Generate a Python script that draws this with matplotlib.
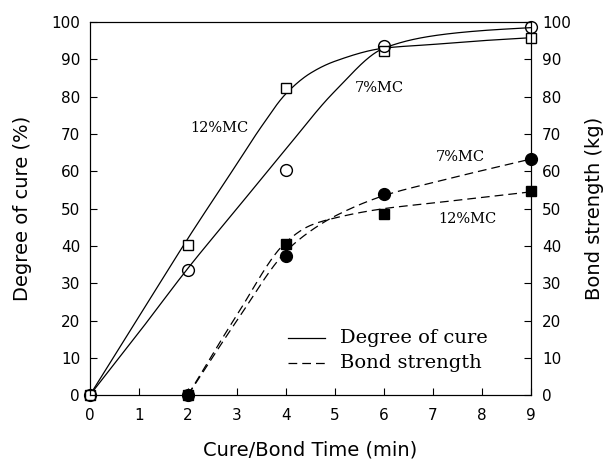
import numpy as np
import matplotlib
matplotlib.use("Agg")
import matplotlib.pyplot as plt

# measured points
time_cure = [0, 2, 4, 6, 9]
cure_12mc = [0, 40.2, 82.3, 92.2, 95.8]
cure_7mc = [0, 33.5, 60.4, 93.6, 98.6]
time_bond = [2, 4, 6, 9]
bond_7mc = [0, 37.2, 53.8, 63.4]
bond_12mc = [0, 40.6, 48.6, 54.8]

# fitted curves
fit_t12 = [0, 1, 2, 3, 3.5, 4, 4.5, 5, 6, 7, 8, 9]
fit_cure_12mc = [0, 21, 42, 62, 72, 80.8, 86.3, 89.5, 93, 94, 95, 95.8]
fit_t7 = [0, 1, 2, 3, 4, 5, 6, 7, 8, 9]
fit_cure_7mc = [0, 16.8, 34, 50, 66, 81.5, 93, 96.3, 97.7, 98.5]
fit_bt = [2, 3, 4, 4.5, 5, 6, 7, 8, 9]
fit_bond_7mc = [0, 20, 38.5, 44, 48, 53.5, 57, 60.2, 63.3]
fit_bond_12mc = [0, 21.5, 41, 45.5, 47.5, 50, 51.5, 53, 54.5]


def smooth(xs, ys, n=400):
    # monotone cubic through the read points, only for drawing
    x = np.asarray(xs, float); y = np.asarray(ys, float)
    h = np.diff(x); d = np.diff(y) / h
    m = np.zeros_like(y)
    m[0], m[-1] = d[0], d[-1]
    for i in range(1, len(x) - 1):
        if d[i - 1] * d[i] > 0:
            w1 = 2 * h[i] + h[i - 1]; w2 = h[i] + 2 * h[i - 1]
            m[i] = (w1 + w2) / (w1 / d[i - 1] + w2 / d[i])
    xx = np.linspace(x[0], x[-1], n)
    k = np.clip(np.searchsorted(x, xx) - 1, 0, len(h) - 1)
    t = (xx - x[k]) / h[k]
    h00 = 2*t**3 - 3*t**2 + 1; h10 = t**3 - 2*t**2 + t
    h01 = -2*t**3 + 3*t**2; h11 = t**3 - t**2
    yy = h00*y[k] + h10*h[k]*m[k] + h01*y[k+1] + h11*h[k]*m[k+1]
    return xx, yy


serif = 'DejaVu Serif'
dash = (7, 4)

fig = plt.figure(figsize=(6.07, 4.59), dpi=100)
ax = fig.add_axes([0.148, 0.139, 0.727, 0.813])
ax2 = ax.twinx()

ax.plot(*smooth(fit_t12, fit_cure_12mc), 'k-', lw=0.9)
ax.plot(*smooth(fit_t7, fit_cure_7mc), 'k-', lw=0.9)
ax.plot(time_cure, cure_12mc, 's', ms=7, mfc='white', mec='k', mew=1, clip_on=False)
ax.plot(time_cure, cure_7mc, 'o', ms=8.5, mfc='none', mec='k', mew=1, clip_on=False)

ax2.plot(*smooth(fit_bt, fit_bond_7mc), 'k--', lw=0.9, dashes=dash)
ax2.plot(*smooth(fit_bt, fit_bond_12mc), 'k--', lw=0.9, dashes=dash)
ax2.plot(time_bond, bond_7mc, 'o', ms=8.5, color='k', clip_on=False)
ax2.plot(time_bond, bond_12mc, 's', ms=6.5, color='k', clip_on=False)

ax.set_xlim(0, 9)
ax.set_ylim(0, 100)
ax2.set_ylim(0, 100)
ax.set_xticks(range(10))
ax.set_yticks(range(0, 101, 10))
ax2.set_yticks(range(0, 101, 10))
ax.tick_params(axis='x', direction='in', length=5, labelsize=11, pad=9)
ax.tick_params(axis='y', direction='in', length=5, labelsize=11, pad=7)
ax2.tick_params(direction='in', length=5, labelsize=11, pad=8)

ax.set_xlabel('Cure/Bond Time (min)', fontsize=14, labelpad=13)
ax.set_ylabel('Degree of cure (%)', fontsize=14, labelpad=14)
ax2.set_ylabel('Bond strength (kg)', fontsize=14, labelpad=10)

ax.text(2.65, 71.6, '12%MC', family=serif, fontsize=10.5, ha='center', va='center')
ax.text(5.9, 82.3, '7%MC', family=serif, fontsize=10.5, ha='center', va='center')
ax2.text(7.55, 63.8, '7%MC', family=serif, fontsize=10.5, ha='center', va='center')
ax2.text(7.7, 47.2, '12%MC', family=serif, fontsize=10.5, ha='center', va='center')

ax.plot([4.05, 4.8], [15.3, 15.3], 'k-', lw=0.9)
ax.plot([4.05, 4.8], [8.6, 8.6], 'k--', lw=0.9, dashes=dash)
ax.text(5.1, 15.3, 'Degree of cure', family=serif, fontsize=14, va='center')
ax.text(5.1, 8.6, 'Bond strength', family=serif, fontsize=14, va='center')

fig.savefig('out.png', dpi=100)
